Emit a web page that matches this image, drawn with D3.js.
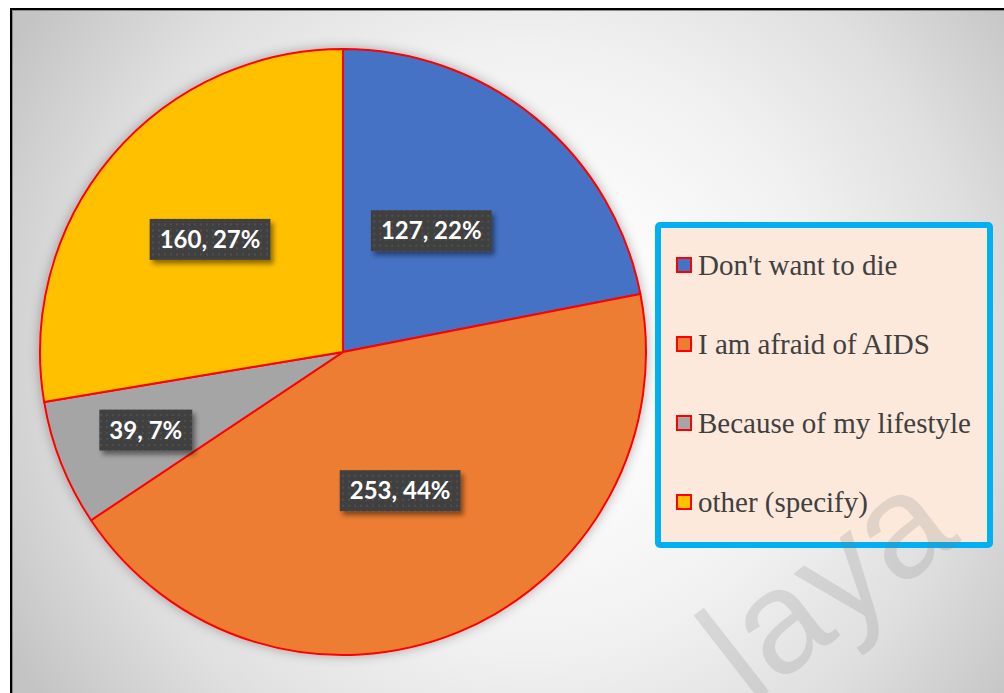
<!DOCTYPE html>
<html>
<head>
<meta charset="utf-8">
<script src="https://cdn.jsdelivr.net/npm/d3@7"></script>
<style>
  html, body { margin: 0; padding: 0; background: #ffffff; }
  svg { display: block; }
</style>
</head>
<body>
<svg id="chart" width="1004" height="693"></svg>
<script>
// Reasons given (counts and rounded shares)
const categories = ["Don't want to die", "I am afraid of AIDS", "Because of my lifestyle", "other (specify)"];
const counts = [127, 253, 39, 160];
const percentLabels = ["22%", "44%", "7%", "27%"];
const sliceColors = ["#4472c4", "#ed7d31", "#a5a5a5", "#ffc000"];

const W = 1004, H = 693;
const svg = d3.select("#chart");
const defs = svg.append("defs");

// Chart-area background: soft radial fill, brighter in the middle
const bg = defs.append("radialGradient")
  .attr("id", "bg")
  .attr("gradientUnits", "userSpaceOnUse")
  .attr("cx", 530).attr("cy", 350).attr("r", 600);
[[0, "#ffffff"], [0.25, "#fbfbfb"], [0.5, "#f1f1f1"], [0.75, "#dfdfdf"], [1, "#c4c4c4"]]
  .forEach(([o, c]) => bg.append("stop").attr("offset", o).attr("stop-color", c));

// Soft shadow around the pie
const pieShadow = defs.append("filter").attr("id", "pieShadow")
  .attr("x", "-20%").attr("y", "-20%").attr("width", "140%").attr("height", "140%");
pieShadow.append("feDropShadow").attr("dx", 0).attr("dy", 0)
  .attr("stdDeviation", 6).attr("flood-color", "#000").attr("flood-opacity", 0.3);

// Shadow for the data-label boxes
const boxShadow = defs.append("filter").attr("id", "boxShadow")
  .attr("x", "-30%").attr("y", "-40%").attr("width", "160%").attr("height", "190%");
boxShadow.append("feDropShadow").attr("dx", 3).attr("dy", 4)
  .attr("stdDeviation", 2.5).attr("flood-color", "#000").attr("flood-opacity", 0.45);

// Dotted dark fill of the data-label boxes
const dots = defs.append("pattern").attr("id", "dots")
  .attr("patternUnits", "userSpaceOnUse").attr("width", 6).attr("height", 6);
dots.append("rect").attr("width", 6).attr("height", 6).attr("fill", "#404040");
dots.append("circle").attr("cx", 3).attr("cy", 3).attr("r", 0.9).attr("fill", "#575757");

// Frame of the chart area
svg.append("rect")
  .attr("x", 11).attr("y", 9).attr("width", 1100).attr("height", 800)
  .attr("fill", "url(#bg)").attr("stroke", "#000").attr("stroke-width", 2);
svg.append("line").attr("x1", 12.5).attr("x2", 12.5).attr("y1", 10).attr("y2", H)
  .attr("stroke", "#8a8a8a").attr("stroke-width", 1);
svg.append("line").attr("x1", 12).attr("x2", W).attr("y1", 10.5).attr("y2", 10.5)
  .attr("stroke", "#8a8a8a").attr("stroke-width", 1);

// Pie
const cx = 343, cy = 352, R = 303;
const pie = d3.pie().sort(null).value(d => d)(counts);
const arc = d3.arc().innerRadius(0).outerRadius(R);
const color = d3.scaleOrdinal().domain(categories).range(sliceColors);

const g = svg.append("g").attr("transform", `translate(${cx},${cy})`);
g.append("g").attr("filter", "url(#pieShadow)")
  .selectAll("path").data(pie).join("path")
  .attr("d", arc)
  .attr("fill", (d, i) => color(categories[i]))
  .attr("stroke", "#ff0000").attr("stroke-width", 2).attr("stroke-linejoin", "round");

// Data labels: narrow slices get pushed further out
const labelRadius = d => {
  const share = (d.endAngle - d.startAngle) / (2 * Math.PI);
  if (share < 0.1) return R * 0.70;
  if (share < 0.25) return R * 0.495;
  if (share < 0.3) return R * 0.575;
  return R * 0.495;
};
const labelAngle = d => {
  const share = (d.endAngle - d.startAngle) / (2 * Math.PI);
  const mid = (d.startAngle + d.endAngle) / 2;
  // first-quadrant label sits a touch nearer the vertical edge
  return (share > 0.1 && share < 0.25) ? mid - 0.06 : mid;
};
const labels = g.append("g").selectAll("g").data(pie).join("g")
  .attr("transform", d => {
    const a = labelAngle(d), r = labelRadius(d);
    return `translate(${r * Math.sin(a)},${-r * Math.cos(a)})`;
  });
labels.each(function (d, i) {
  const lg = d3.select(this);
  const box = lg.append("rect").attr("fill", "url(#dots)").attr("filter", "url(#boxShadow)");
  const t = lg.append("text")
    .attr("text-anchor", "middle").attr("dy", "0.36em")
    .attr("font-family", "Lato, 'Open Sans', sans-serif").attr("font-weight", 700)
    .attr("font-size", 24).attr("fill", "#ffffff")
    .text(`${counts[i]}, ${percentLabels[i]}`);
  const w = t.node().getComputedTextLength() + 20, h = 41;
  box.attr("x", -w / 2).attr("y", -h / 2).attr("width", w).attr("height", h);
});

// Legend
const lx = 658, ly = 225, lw = 332, lh = 320;
const legend = svg.append("g");
legend.append("rect")
  .attr("x", lx).attr("y", ly).attr("width", lw).attr("height", lh).attr("rx", 2)
  .attr("fill", "#fce9db").attr("stroke", "#00b0f0").attr("stroke-width", 6);
const rowY = d3.scalePoint().domain(categories).range([275, 512]);
const items = legend.selectAll("g.item").data(categories).join("g").attr("class", "item")
  .attr("transform", d => `translate(0,${rowY(d)})`);
items.append("rect")
  .attr("x", 677).attr("y", -17).attr("width", 14).attr("height", 14)
  .attr("fill", d => color(d)).attr("stroke", "#ff0000").attr("stroke-width", 2);
items.append("text")
  .attr("x", 698).attr("y", 0)
  .attr("font-family", "'Liberation Serif', 'Times New Roman', serif")
  .attr("font-size", 29).attr("fill", "#404040")
  .text(d => d);

// Faint watermark running off the lower edge
svg.append("text")
  .attr("transform", "translate(962,540) rotate(-38)")
  .attr("text-anchor", "end")
  .attr("font-family", "'Liberation Sans', Arial, sans-serif")
  .attr("font-size", 146).attr("fill", "#7f7f7f").attr("fill-opacity", 0.2)
  .text("laya");
</script>
</body>
</html>
